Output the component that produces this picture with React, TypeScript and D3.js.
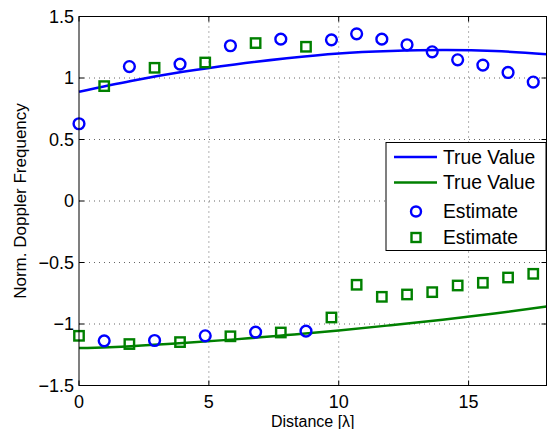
import React from "react";
import * as d3 from "d3";

// estimates, sampled at each distance step
const distance = [0, 0.97, 1.94, 2.91, 3.89, 4.86, 5.83, 6.8, 7.77, 8.74, 9.72, 10.69, 11.66, 12.63, 13.6, 14.58, 15.55, 16.52, 17.49];
const estimateBlue = [0.628, -1.137, 1.093, -1.134, 1.113, -1.096, 1.262, -1.066, 1.316, -1.058, 1.31, 1.359, 1.316, 1.27, 1.213, 1.148, 1.105, 1.045, 0.967];
const estimateGreen = [-1.096, 0.934, -1.163, 1.083, -1.147, 1.126, -1.1, 1.284, -1.069, 1.254, -0.947, -0.681, -0.779, -0.76, -0.741, -0.687, -0.665, -0.622, -0.592];

// true values
const trueX = [0, 2, 4, 6, 8, 10, 12, 14, 16, 18];
const trueBlue = [0.888, 0.975, 1.05, 1.11, 1.16, 1.2, 1.22, 1.228, 1.22, 1.194];
const trueGreen = [-1.196, -1.18, -1.155, -1.125, -1.09, -1.053, -1.01, -0.965, -0.915, -0.858];

const xTicks = [0, 5, 10, 15];
const yTicks = [-1.5, -1, -0.5, 0, 0.5, 1, 1.5];

const BLUE = "#0000ff";
const GREEN = "#008000";
const FONT = "'Liberation Sans', Arial, sans-serif";

export default function App() {
  const width = 547, height = 429;
  const left = 79, right = 546.5, top = 16.5, bottom = 385.5;

  const x = d3.scaleLinear().domain([0, 18]).range([left, right]);
  const y = d3.scaleLinear().domain([-1.5, 1.5]).range([bottom, top]);

  const line = d3
    .line<number>()
    .x((d, i) => x(trueX[i]))
    .y((d) => y(d))
    .curve(d3.curveNatural);

  const fmt = (v: number) => (v < 0 ? "\u2212" + Math.abs(v) : String(v));

  const sq = 9.4;

  return (
    <svg width={width} height={height} style={{ position: "absolute", left: 0, top: 0 }} fontFamily={FONT}>
      <rect x={0} y={0} width={width} height={height} fill="#fff" />
      {/* grid */}
      {xTicks.slice(1).map((t) => (
        <line key={"gx" + t} x1={x(t)} x2={x(t)} y1={top} y2={bottom} stroke="#666" strokeWidth={1} strokeDasharray="1 4" />
      ))}
      {yTicks.slice(1, -1).map((t) => (
        <line key={"gy" + t} x1={left} x2={right} y1={y(t)} y2={y(t)} stroke="#666" strokeWidth={1} strokeDasharray="1 4" />
      ))}
      {/* ticks */}
      {xTicks.map((t) => (
        <g key={"tx" + t}>
          <line x1={x(t)} x2={x(t)} y1={bottom} y2={bottom - 5} stroke="#000" />
          <line x1={x(t)} x2={x(t)} y1={top} y2={top + 5} stroke="#000" />
          <text x={x(t)} y={407.5} textAnchor="middle" fontSize={18}>{t}</text>
        </g>
      ))}
      {yTicks.map((t) => (
        <g key={"ty" + t}>
          <line x1={left} x2={left + 5} y1={y(t)} y2={y(t)} stroke="#000" />
          <line x1={right} x2={right - 5} y1={y(t)} y2={y(t)} stroke="#000" />
          <text x={74} y={y(t)} textAnchor="end" dominantBaseline="central" fontSize={18}>{fmt(t)}</text>
        </g>
      ))}
      {/* true value lines */}
      <path d={line(trueBlue) || ""} fill="none" stroke={BLUE} strokeWidth={2.5} />
      <path d={line(trueGreen) || ""} fill="none" stroke={GREEN} strokeWidth={2.5} />
      {/* estimates */}
      {estimateBlue.map((v, i) => (
        <circle key={"cb" + i} cx={x(distance[i])} cy={y(v)} r={5.4} fill="none" stroke={BLUE} strokeWidth={2.4} />
      ))}
      {estimateGreen.map((v, i) => (
        <rect key={"sg" + i} x={x(distance[i]) - sq / 2} y={y(v) - sq / 2} width={sq} height={sq} fill="none" stroke={GREEN} strokeWidth={2.4} />
      ))}
      {/* frame */}
      <rect x={left} y={top} width={right - left} height={bottom - top} fill="none" stroke="#000" strokeWidth={1} />
      {/* axis labels */}
      <text x={(left + right) / 2} y={427} textAnchor="middle" fontSize={16}>Distance [λ]</text>
      <text transform={`translate(26,${(top + bottom) / 2}) rotate(-90)`} textAnchor="middle" fontSize={17}>Norm. Doppler Frequency</text>
      {/* legend */}
      <g>
        <rect x={386} y={142.5} width={160} height={108} fill="#fff" stroke="#000" strokeWidth={1} />
        <line x1={394} x2={437} y1={157} y2={157} stroke={BLUE} strokeWidth={2.5} />
        <text x={443} y={157} dominantBaseline="central" fontSize={19.3}>True Value</text>
        <line x1={394} x2={437} y1={182.5} y2={182.5} stroke={GREEN} strokeWidth={2.5} />
        <text x={443} y={182.5} dominantBaseline="central" fontSize={19.3}>True Value</text>
        <circle cx={416} cy={211.5} r={5} fill="none" stroke={BLUE} strokeWidth={2.4} />
        <text x={443} y={211.5} dominantBaseline="central" fontSize={19.3}>Estimate</text>
        <rect x={416 - 4.5} y={237.5 - 4.5} width={9} height={9} fill="none" stroke={GREEN} strokeWidth={2.4} />
        <text x={443} y={237.5} dominantBaseline="central" fontSize={19.3}>Estimate</text>
      </g>
    </svg>
  );
}
